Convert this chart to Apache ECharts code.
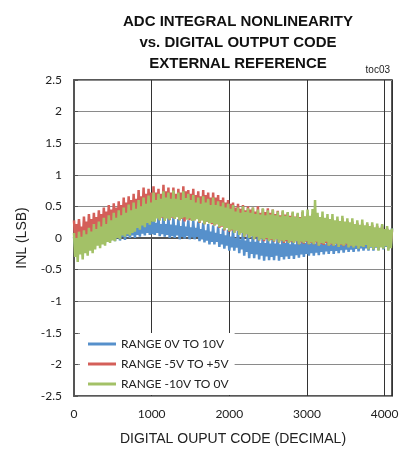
<!DOCTYPE html>
<html>
<head>
<meta charset="utf-8">
<script src="https://cdn.jsdelivr.net/npm/echarts@6/dist/echarts.min.js"></script>
<style>html,body{margin:0;padding:0;background:#fff;}#c{width:404px;height:455px;}</style>
</head>
<body>
<div id="c"></div>
<script>
var titleText = 'ADC INTEGRAL NONLINEARITY\nvs. DIGITAL OUTPUT CODE\nEXTERNAL REFERENCE';
var noteText = 'toc03';
var xName = 'DIGITAL OUPUT CODE (DECIMAL)';
var yName = 'INL (LSB)';
var seriesNames = ['RANGE 0V TO 10V', 'RANGE -5V TO +5V', 'RANGE -10V TO 0V'];
var yTicks = [-2.5, -2, -1.5, -1, -0.5, 0, 0.5, 1, 1.5, 2, 2.5];
var xTicks = [0, 1000, 2000, 3000, 4000];

var codes = [
0,16,32,48,64,80,96,112,128,144,160,176,192,208,224,240,
256,272,288,304,320,336,352,368,384,400,416,432,448,464,480,496,
512,528,544,560,576,592,608,624,640,656,672,688,704,720,736,752,
768,784,800,816,832,848,864,880,896,912,928,944,960,976,992,1008,
1024,1040,1056,1072,1088,1104,1120,1136,1152,1168,1184,1200,1216,1232,1248,1264,
1280,1296,1312,1328,1344,1360,1376,1392,1408,1424,1440,1456,1472,1488,1504,1520,
1536,1552,1568,1584,1600,1616,1632,1648,1664,1680,1696,1712,1728,1744,1760,1776,
1792,1808,1824,1840,1856,1872,1888,1904,1920,1936,1952,1968,1984,2000,2016,2032,
2048,2064,2080,2096,2112,2128,2144,2160,2176,2192,2208,2224,2240,2256,2272,2288,
2304,2320,2336,2352,2368,2384,2400,2416,2432,2448,2464,2480,2496,2512,2528,2544,
2560,2576,2592,2608,2624,2640,2656,2672,2688,2704,2720,2736,2752,2768,2784,2800,
2816,2832,2848,2864,2880,2896,2912,2928,2944,2960,2976,2992,3008,3024,3040,3056,
3072,3088,3104,3120,3136,3152,3168,3184,3200,3216,3232,3248,3264,3280,3296,3312,
3328,3344,3360,3376,3392,3408,3424,3440,3456,3472,3488,3504,3520,3536,3552,3568,
3584,3600,3616,3632,3648,3664,3680,3696,3712,3728,3744,3760,3776,3792,3808,3824,
3840,3856,3872,3888,3904,3920,3936,3952,3968,3984,4000,4016,4032,4048,4064,4080,
4095];

var inlBlue = [
0.02,-0.15,-0.04,-0.10,0.04,-0.14,-0.02,-0.08,0.06,-0.13,0.00,-0.09,0.08,-0.11,0.02,-0.07,
0.10,-0.10,0.02,-0.06,0.12,-0.09,0.05,-0.04,0.15,-0.07,0.08,-0.03,0.18,-0.05,0.10,-0.02,
0.20,-0.05,0.12,0.00,0.23,-0.04,0.15,0.02,0.26,-0.03,0.18,0.03,0.28,0.00,0.20,0.04,
0.30,0.00,0.20,0.05,0.32,0.02,0.22,0.07,0.34,0.04,0.24,0.08,0.35,0.05,0.25,0.06,
0.35,0.05,0.24,0.08,0.33,0.03,0.22,0.06,0.34,0.02,0.22,0.05,0.32,0.00,0.21,0.03,
0.32,0.00,0.20,0.04,0.30,-0.02,0.19,0.02,0.31,-0.01,0.18,0.03,0.28,-0.02,0.17,0.01,
0.28,-0.02,0.16,0.02,0.26,-0.05,0.14,-0.02,0.24,-0.07,0.12,-0.04,0.22,-0.10,0.10,-0.06,
0.20,-0.10,0.08,-0.06,0.18,-0.14,0.06,-0.10,0.15,-0.17,0.04,-0.12,0.13,-0.20,0.02,-0.15,
0.12,-0.20,0.00,-0.15,0.11,-0.24,-0.02,-0.18,0.10,-0.28,-0.04,-0.22,0.08,-0.32,-0.06,-0.25,
0.08,-0.32,-0.06,-0.26,0.07,-0.34,-0.08,-0.28,0.06,-0.36,-0.08,-0.29,0.05,-0.35,-0.09,-0.30,
0.05,-0.35,-0.09,-0.28,0.04,-0.36,-0.10,-0.30,0.06,-0.34,-0.08,-0.29,0.05,-0.33,-0.10,-0.28,
0.05,-0.33,-0.10,-0.27,0.04,-0.31,-0.09,-0.26,0.06,-0.30,-0.08,-0.25,0.04,-0.28,-0.09,-0.24,
0.05,-0.28,-0.09,-0.23,0.03,-0.27,-0.10,-0.22,0.04,-0.26,-0.10,-0.21,0.02,-0.25,-0.11,-0.20,
0.02,-0.25,-0.11,-0.20,0.01,-0.24,-0.10,-0.19,0.00,-0.23,-0.11,-0.18,0.00,-0.22,-0.10,-0.18,
0.00,-0.22,-0.10,-0.17,0.02,-0.21,-0.09,-0.16,0.03,-0.20,-0.08,-0.16,0.05,-0.20,-0.07,-0.15,
0.06,-0.20,-0.06,-0.15,0.10,-0.19,-0.04,-0.14,0.20,-0.18,0.00,-0.14,0.14,-0.18,0.02,-0.13,
0.15];

var inlRed = [
0.28,-0.06,0.22,-0.02,0.30,0.00,0.18,-0.08,0.34,0.02,0.26,-0.04,0.38,0.04,0.30,-0.02,
0.40,0.00,0.33,0.06,0.44,0.02,0.38,0.08,0.48,0.04,0.42,0.10,0.52,0.06,0.45,0.12,
0.55,0.10,0.48,0.16,0.58,0.12,0.52,0.18,0.64,0.14,0.56,0.22,0.66,0.18,0.60,0.20,
0.70,0.22,0.62,0.26,0.76,0.24,0.66,0.30,0.80,0.26,0.70,0.32,0.78,0.28,0.72,0.30,
0.82,0.30,0.72,0.34,0.78,0.28,0.70,0.32,0.84,0.30,0.74,0.36,0.80,0.28,0.72,0.32,
0.80,0.30,0.70,0.34,0.78,0.28,0.72,0.30,0.82,0.26,0.74,0.32,0.76,0.28,0.70,0.30,
0.78,0.28,0.68,0.30,0.74,0.24,0.66,0.28,0.76,0.22,0.68,0.26,0.72,0.24,0.64,0.22,
0.72,0.20,0.64,0.22,0.68,0.16,0.60,0.18,0.64,0.12,0.56,0.16,0.60,0.10,0.54,0.12,
0.56,0.08,0.48,0.12,0.54,0.06,0.46,0.08,0.52,0.02,0.44,0.06,0.50,0.00,0.45,0.04,
0.48,-0.02,0.42,0.02,0.50,-0.04,0.40,0.00,0.46,-0.05,0.41,-0.02,0.47,-0.04,0.40,-0.03,
0.45,-0.06,0.38,-0.02,0.43,-0.07,0.36,-0.04,0.42,-0.08,0.37,-0.05,0.40,-0.08,0.35,-0.06,
0.40,-0.08,0.34,-0.05,0.38,-0.10,0.33,-0.07,0.41,-0.09,0.34,-0.06,0.37,-0.10,0.32,-0.08,
0.38,-0.10,0.30,-0.07,0.35,-0.12,0.29,-0.09,0.34,-0.11,0.28,-0.08,0.32,-0.12,0.27,-0.10,
0.30,-0.12,0.24,-0.09,0.29,-0.14,0.23,-0.11,0.31,-0.13,0.22,-0.10,0.27,-0.14,0.22,-0.12,
0.26,-0.14,0.20,-0.11,0.24,-0.15,0.19,-0.12,0.23,-0.14,0.18,-0.11,0.22,-0.15,0.17,-0.13,
0.21,-0.15,0.15,-0.12,0.19,-0.14,0.13,-0.10,0.18,-0.13,0.12,-0.11,0.15,-0.12,0.11,-0.10,
0.12];

var inlGreen = [
0.08,-0.30,0.00,-0.38,0.10,-0.26,0.02,-0.34,0.12,-0.24,0.06,-0.28,0.16,-0.20,0.10,-0.24,
0.22,-0.18,0.14,-0.12,0.26,-0.16,0.18,-0.10,0.32,-0.12,0.22,-0.06,0.36,-0.08,0.28,-0.04,
0.40,-0.05,0.32,0.00,0.44,-0.02,0.36,0.04,0.48,0.02,0.40,0.06,0.53,0.04,0.44,0.08,
0.56,0.10,0.46,0.16,0.60,0.13,0.50,0.20,0.64,0.17,0.54,0.24,0.67,0.21,0.56,0.26,
0.72,0.26,0.60,0.31,0.70,0.28,0.62,0.33,0.74,0.27,0.64,0.31,0.72,0.29,0.62,0.33,
0.75,0.30,0.62,0.33,0.72,0.28,0.60,0.31,0.74,0.33,0.63,0.29,0.70,0.31,0.60,0.27,
0.68,0.28,0.56,0.30,0.64,0.25,0.54,0.28,0.66,0.22,0.56,0.26,0.62,0.23,0.52,0.24,
0.64,0.20,0.52,0.22,0.58,0.17,0.50,0.19,0.56,0.13,0.48,0.16,0.54,0.11,0.46,0.13,
0.52,0.08,0.42,0.12,0.48,0.05,0.40,0.08,0.50,0.02,0.41,0.06,0.47,0.00,0.40,0.03,
0.48,-0.02,0.38,0.02,0.45,-0.04,0.37,-0.01,0.47,-0.03,0.36,0.00,0.44,-0.05,0.37,-0.02,
0.45,-0.05,0.36,-0.02,0.42,-0.07,0.34,-0.04,0.44,-0.06,0.35,-0.03,0.41,-0.08,0.33,-0.05,
0.42,-0.08,0.33,-0.05,0.40,-0.10,0.32,-0.06,0.44,-0.08,0.34,-0.05,0.45,-0.10,0.35,-0.07,
0.46,-0.10,0.60,-0.06,0.40,-0.12,0.33,-0.08,0.42,-0.09,0.32,-0.06,0.38,-0.12,0.30,-0.09,
0.38,-0.12,0.28,-0.09,0.34,-0.14,0.27,-0.10,0.35,-0.12,0.26,-0.09,0.31,-0.15,0.25,-0.12,
0.31,-0.15,0.22,-0.12,0.28,-0.17,0.21,-0.13,0.29,-0.14,0.20,-0.11,0.25,-0.18,0.19,-0.14,
0.25,-0.18,0.17,-0.14,0.23,-0.20,0.16,-0.15,0.22,-0.17,0.14,-0.13,0.19,-0.20,0.13,-0.16,
0.15];

var colors = ['#5690CB', '#D45F59', '#A3C167'];

function pairs(vals) {
  return codes.map(function (c, i) { return [c, vals[i]]; });
}
var allVals = [inlBlue, inlRed, inlGreen];

var chart = echarts.init(document.getElementById('c'), null, {renderer: 'canvas'});
var labelFont = 'Lato, "Liberation Sans", sans-serif';
chart.setOption({
  animation: false,
  backgroundColor: '#fff',
  title: {
    text: titleText,
    left: 233, top: 6, textAlign: 'center',
    textStyle: {fontFamily: '"Liberation Sans Narrow", "Liberation Sans", Arial, sans-serif', fontWeight: 'bold', fontSize: 15, lineHeight: 21, color: '#111'}
  },
  graphic: [{
    type: 'text', right: 14, top: 65,
    style: {text: noteText, fontSize: 10, fontFamily: '"Liberation Sans", Arial, sans-serif', fill: '#222'}
  }],
  grid: {left: 74, right: 12, top: 80, bottom: 59, show: true, borderColor: '#222', borderWidth: 1.5},
  legend: {
    orient: 'vertical', left: 80, top: 333,
    data: seriesNames, icon: 'rect', itemWidth: 28, itemHeight: 3, itemGap: 8,
    backgroundColor: '#fff', padding: [5, 6, 5, 8],
    textStyle: {fontSize: 12, color: '#222', fontFamily: labelFont}
  },
  xAxis: {
    type: 'value', min: 0, max: 4095, interval: 1000,
    name: xName, nameLocation: 'middle', nameGap: 36,
    nameTextStyle: {fontSize: 14, color: '#222', fontFamily: '"Liberation Sans", Arial, sans-serif'},
    axisLine: {show: true, lineStyle: {color: '#555', width: 2}},
    axisTick: {show: true, inside: true, length: 4, lineStyle: {color: '#555'}},
    axisLabel: {fontSize: 12, color: '#222', margin: 12, fontFamily: labelFont,
      formatter: function (v) { return xTicks.indexOf(v) >= 0 ? String(v) : ''; }},
    splitLine: {show: true, lineStyle: {color: '#333', width: 1}}
  },
  yAxis: {
    type: 'value', min: -2.5, max: 2.5, interval: 0.5,
    name: yName, nameLocation: 'middle', nameGap: 45,
    nameTextStyle: {fontSize: 14, color: '#222', fontFamily: '"Liberation Sans", Arial, sans-serif'},
    axisLine: {show: true, lineStyle: {color: '#555', width: 2}},
    axisTick: {show: true, inside: true, length: 4, lineStyle: {color: '#555'}},
    axisLabel: {fontSize: 12, color: '#222', margin: 12, fontFamily: labelFont,
      formatter: function (v) { var r = Math.round(v * 10) / 10; return yTicks.indexOf(r) >= 0 ? String(r) : ''; }},
    splitLine: {show: true, lineStyle: {color: '#8a8a8a', width: 1}}
  },
  series: seriesNames.map(function (n, k) {
    return {
      name: n, type: 'line', data: pairs(allVals[k]), showSymbol: false, symbol: 'none',
      lineStyle: {color: colors[k], width: 2.5}, itemStyle: {color: colors[k]}, z: 2 + k
    };
  })
});
</script>
</body>
</html>
